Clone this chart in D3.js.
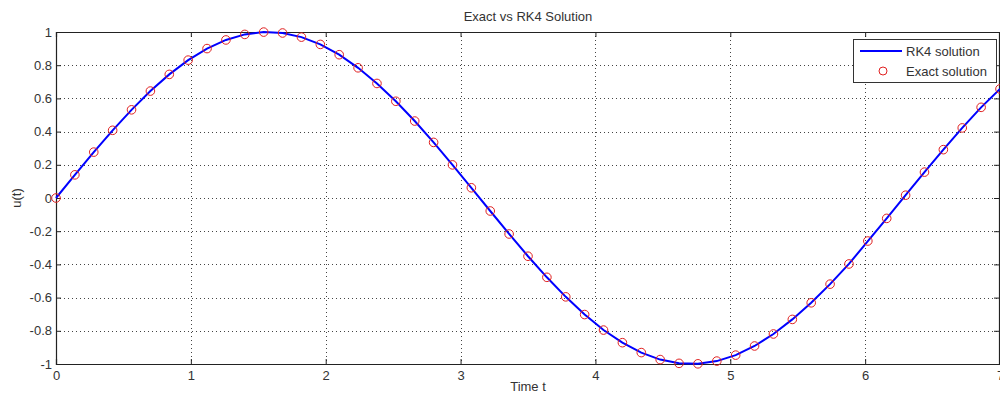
<!DOCTYPE html>
<html><head><meta charset="utf-8">
<script src="https://cdn.jsdelivr.net/npm/d3@7"></script>
<style>body{margin:0;background:#fff}svg{display:block}text{font-family:"Liberation Sans",Arial,sans-serif}</style>
</head><body>
<svg id="c" width="1000" height="400"></svg>
<script>
const tValues = [0,0.14,0.28,0.42,0.56,0.70,0.84,0.98,1.12,1.26,1.40,1.54,1.68,1.82,1.96,2.10,2.24,2.38,2.52,2.66,2.80,2.94,3.08,3.22,3.36,3.50,3.64,3.78,3.92,4.06,4.20,4.34,4.48,4.62,4.76,4.90,5.04,5.18,5.32,5.46,5.60,5.74,5.88,6.02,6.16,6.30,6.44,6.58,6.72,6.86,7.00];
const rk4Values = [0,0.1395,0.2764,0.4078,0.5312,0.6442,0.7446,0.8305,0.9001,0.9521,0.9855,0.9995,0.9940,0.9691,0.9252,0.8632,0.7843,0.6901,0.5828,0.4636,0.3350,0.1995,0.0616,-0.0783,-0.2168,-0.3508,-0.4777,-0.5955,-0.7021,-0.7956,-0.8716,-0.9312,-0.9733,-0.9961,-0.9989,-0.9825,-0.9465,-0.8915,-0.8192,-0.7314,-0.6313,-0.5190,-0.3973,-0.2592,-0.1228,0.0168,0.1559,0.2913,0.4222,0.5462,0.6570];
const exactValues = [0,0.1395,0.2764,0.4078,0.5312,0.6442,0.7446,0.8305,0.9001,0.9521,0.9855,0.9995,0.9940,0.9691,0.9252,0.8632,0.7843,0.6901,0.5828,0.4636,0.3350,0.1995,0.0616,-0.0783,-0.2168,-0.3508,-0.4777,-0.5955,-0.7021,-0.7956,-0.8716,-0.9312,-0.9733,-0.9961,-0.9989,-0.9825,-0.9465,-0.8915,-0.8192,-0.7314,-0.6313,-0.5190,-0.3973,-0.2592,-0.1228,0.0168,0.1559,0.2913,0.4222,0.5462,0.6570];
const xTicks = [0,1,2,3,4,5,6,7];
const yTicks = [-1,-0.8,-0.6,-0.4,-0.2,0,0.2,0.4,0.6,0.8,1];
const seriesNames = ["RK4 solution","Exact solution"];

const svg = d3.select("#c");
const L=56, R=999, T=32, B=364;
const FS = "13px";
const x = d3.scaleLinear().domain([0,7]).range([L,R+1]);
const y = d3.scaleLinear().domain([-1,1]).range([B,T]);
const fmt = d => String(Math.round(d*10)/10).replace("\u2212","-");

// grid
const grid = svg.append("g").attr("stroke","#444").attr("stroke-width",1).attr("stroke-dasharray","1,3");
xTicks.forEach(t=>grid.append("line").attr("x1",Math.round(x(t))+0.5).attr("x2",Math.round(x(t))+0.5).attr("y1",T).attr("y2",B));
yTicks.forEach(t=>grid.append("line").attr("y1",Math.round(y(t))+0.5).attr("y2",Math.round(y(t))+0.5).attr("x1",L).attr("x2",R));

// axes
const xb = svg.append("g").attr("transform",`translate(0,${B})`).call(d3.axisBottom(x).tickValues(xTicks).tickSize(-5).tickPadding(7).tickFormat(fmt));
const xt = svg.append("g").attr("transform",`translate(0,${T})`).call(d3.axisTop(x).tickValues(xTicks).tickSize(-5).tickFormat(""));
const yl = svg.append("g").attr("transform",`translate(${L},0)`).call(d3.axisLeft(y).tickValues(yTicks).tickSize(-5).tickPadding(4).tickFormat(fmt));
const yr = svg.append("g").attr("transform",`translate(${R},0)`).call(d3.axisRight(y).tickValues(yTicks).tickSize(-5).tickFormat(""));
[xb,xt,yl,yr].forEach(g=>{
  g.select(".domain").attr("stroke","#222").attr("stroke-width",1.2);
  g.selectAll(".tick line").attr("stroke","#222");
  g.selectAll("text").attr("fill","#333").style("font-size",FS).style("font-family","'Liberation Sans',Arial,sans-serif");
});

// line
svg.append("path").datum(tValues.map((t,i)=>[t,rk4Values[i]]))
  .attr("fill","none").attr("stroke","#0000ff").attr("stroke-width",2)
  .attr("d",d3.line().x(d=>x(d[0])).y(d=>y(d[1])));
// points
svg.append("g").selectAll("circle").data(tValues.map((t,i)=>[t,exactValues[i]])).join("circle")
  .attr("cx",d=>x(d[0])).attr("cy",d=>y(d[1])).attr("r",4.3)
  .attr("fill","none").attr("stroke","#e02020").attr("stroke-width",1);

// titles
svg.append("text").attr("x",528).attr("y",21).attr("text-anchor","middle").attr("fill","#333").style("font-size",FS).text("Exact vs RK4 Solution");
svg.append("text").attr("x",528).attr("y",391).attr("text-anchor","middle").attr("fill","#333").style("font-size",FS).text("Time t");
svg.append("text").attr("transform","translate(21,198) rotate(-90)").attr("text-anchor","middle").attr("fill","#333").style("font-size",FS).text("u(t)");

// legend
const lg = svg.append("g");
lg.append("rect").attr("x",853.5).attr("y",39.5).attr("width",143).attr("height",43).attr("fill","#fff").attr("stroke","#333").attr("stroke-width",1);
lg.append("line").attr("x1",860).attr("x2",902).attr("y1",51).attr("y2",51).attr("stroke","#0000ff").attr("stroke-width",2);
lg.append("circle").attr("cx",883).attr("cy",71).attr("r",4).attr("fill","none").attr("stroke","#e02020").attr("stroke-width",1);
lg.selectAll("text.lt").data(seriesNames).join("text").attr("class","lt")
  .attr("x",906).attr("y",(d,i)=>56+i*20).attr("fill","#333").style("font-size",FS).text(d=>d);
</script>
</body></html>
